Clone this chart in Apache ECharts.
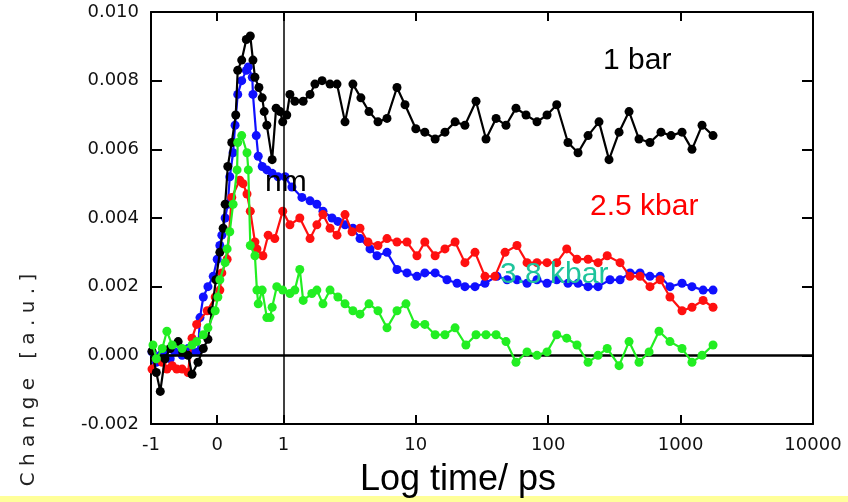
<!DOCTYPE html>
<html>
<head>
<meta charset="utf-8">
<script src="https://cdn.jsdelivr.net/npm/echarts@6/dist/echarts.min.js"></script>
<style>
  html, body { margin: 0; padding: 0; background: #fff; }
  #chart { width: 848px; height: 502px; }
</style>
</head>
<body>
<div id="chart"></div>
<script>
// Time axis: linear between -1 and 1 ps, logarithmic above 1 ps.
const xTickTimes = [-1, 0, 1, 10, 100, 1000, 10000];
const xTickLabels = ['-1', '0', '1', '10', '100', '1000', '10000'];

// [time (ps), change (a.u.)]
const bar1 = [
  [-0.985, 0.00012], [-0.92, -0.0005], [-0.86, -0.00105], [-0.79, -0.0001], [-0.71, 0.0002],
  [-0.59, 0.0004], [-0.52, 0.0001], [-0.44, 0.0], [-0.38, -0.00055], [-0.29, -0.0002],
  [-0.21, 0.0002], [-0.14, 0.00047], [-0.08, 0.0013], [-0.02, 0.0022], [0.04, 0.0030],
  [0.09, 0.0037], [0.12, 0.0044], [0.16, 0.0055], [0.22, 0.0062], [0.28, 0.0070],
  [0.31, 0.0083], [0.37, 0.0086], [0.44, 0.0092], [0.50, 0.0093], [0.54, 0.0086],
  [0.57, 0.0081], [0.63, 0.0078], [0.68, 0.0075], [0.71, 0.0071], [0.75, 0.0067],
  [0.83, 0.0057], [0.89, 0.0072], [0.95, 0.0071], [0.99, 0.0068], [1.06, 0.0070],
  [1.12, 0.0076], [1.22, 0.0074], [1.41, 0.0074], [1.59, 0.0076], [1.73, 0.0079],
  [1.96, 0.0080], [2.25, 0.0079], [2.54, 0.0079], [2.92, 0.0068], [3.35, 0.0079],
  [3.85, 0.0075], [4.43, 0.0071], [5.18, 0.0068], [6.06, 0.0069], [7.21, 0.0078],
  [8.29, 0.0073], [10.0, 0.0066], [11.7, 0.0065], [14.0, 0.0063], [16.6, 0.0065],
  [19.8, 0.0068], [23.5, 0.0067], [28.5, 0.0074], [33.9, 0.0063], [40.4, 0.0069],
  [48.0, 0.0067], [57.1, 0.0072], [68.0, 0.0070], [82.3, 0.0068], [98.0, 0.0070],
  [116, 0.0073], [141, 0.0062], [168, 0.0059], [200, 0.0064], [242, 0.0068],
  [288, 0.0057], [343, 0.0065], [408, 0.0071], [485, 0.0063], [587, 0.0062],
  [711, 0.0065], [847, 0.0064], [1025, 0.0065], [1219, 0.0060], [1452, 0.0067],
  [1758, 0.0064]
];

const kbar25 = [
  [-0.985, -0.0004], [-0.92, -0.0001], [-0.83, -0.0002], [-0.76, -0.0004], [-0.68, -0.0003],
  [-0.61, -0.0004], [-0.53, -0.0004], [-0.44, -0.0005], [-0.38, 0.0005], [-0.31, 0.0009],
  [-0.15, 0.0013], [-0.03, 0.0017], [0.04, 0.0019], [0.07, 0.0024], [0.15, 0.0028],
  [0.22, 0.0046], [0.34, 0.0051], [0.39, 0.0050], [0.45, 0.0047], [0.50, 0.0042],
  [0.57, 0.0033], [0.60, 0.0031], [0.69, 0.0029], [0.77, 0.0035], [0.87, 0.0034],
  [0.99, 0.0042], [1.12, 0.0038], [1.33, 0.0040], [1.59, 0.0034], [1.79, 0.0038],
  [1.99, 0.0041], [2.25, 0.0037], [2.54, 0.0035], [2.92, 0.0041], [3.30, 0.0036],
  [3.79, 0.0037], [4.35, 0.0033], [5.18, 0.0032], [6.06, 0.0034], [7.21, 0.0033],
  [8.58, 0.0033], [10.2, 0.0029], [11.7, 0.0033], [14.0, 0.0029], [16.6, 0.0031],
  [19.8, 0.0033], [23.5, 0.0027], [28.0, 0.0030], [33.3, 0.0023], [39.6, 0.0023],
  [47.2, 0.0030], [58.1, 0.0032], [69.2, 0.0027], [82.3, 0.0027], [98.0, 0.0027],
  [116, 0.0027], [138, 0.0031], [165, 0.0028], [200, 0.0028], [238, 0.0027],
  [279, 0.0029], [349, 0.0027], [415, 0.0023], [494, 0.0023], [587, 0.0020],
  [700, 0.0022], [831, 0.0017], [1025, 0.0013], [1219, 0.0014], [1479, 0.0016],
  [1758, 0.0014]
];

const kbarBlue = [
  [-0.985, 0.0001], [-0.92, -0.0002], [-0.86, 0.0], [-0.79, 0.0001], [-0.71, -0.0001],
  [-0.64, 0.0001], [-0.53, 0.0], [-0.44, 0.0002], [-0.37, 0.0001], [-0.29, 0.0001],
  [-0.26, 0.0011], [-0.21, 0.0017], [-0.14, 0.0020], [-0.06, 0.0023], [0.0, 0.0028],
  [0.04, 0.0032], [0.07, 0.0035], [0.12, 0.0040], [0.16, 0.0044], [0.19, 0.0052],
  [0.24, 0.0059], [0.27, 0.0067], [0.31, 0.0076], [0.37, 0.0080], [0.44, 0.0083],
  [0.47, 0.0084], [0.53, 0.0081], [0.54, 0.0076], [0.59, 0.0064], [0.62, 0.0058],
  [0.68, 0.0055], [0.75, 0.0054], [0.83, 0.0053], [0.92, 0.0052], [1.03, 0.0052],
  [1.16, 0.0049], [1.38, 0.0046], [1.59, 0.0045], [1.79, 0.0044], [1.99, 0.0042],
  [2.33, 0.0040], [2.58, 0.0039], [2.92, 0.0038], [3.35, 0.0037], [3.79, 0.0034],
  [4.51, 0.0031], [5.09, 0.0029], [6.06, 0.0030], [7.21, 0.0025], [8.58, 0.0024],
  [10.2, 0.0023], [11.7, 0.0024], [14.0, 0.0024], [17.2, 0.0022], [20.5, 0.0021],
  [23.5, 0.0020], [28.0, 0.0020], [33.3, 0.0021], [41.0, 0.0023], [48.9, 0.0022],
  [58.1, 0.0022], [69.2, 0.0021], [82.3, 0.0022], [98.0, 0.0021], [116, 0.0022],
  [141, 0.0021], [168, 0.0021], [200, 0.0020], [238, 0.0020], [293, 0.0022],
  [349, 0.0022], [415, 0.0024], [494, 0.0024], [587, 0.0023], [700, 0.0023],
  [831, 0.0020], [1025, 0.0021], [1219, 0.0020], [1479, 0.0019], [1758, 0.0019]
];

const kbar38 = [
  [-0.97, 0.0003], [-0.92, -0.0001], [-0.83, 0.0002], [-0.76, 0.0007], [-0.68, 0.0003],
  [-0.53, 0.0002], [-0.38, 0.0003], [-0.31, 0.0004], [-0.21, 0.0006], [-0.14, 0.0008],
  [-0.03, 0.0013], [0.01, 0.0017], [0.04, 0.0022], [0.12, 0.0027], [0.15, 0.0031],
  [0.19, 0.0036], [0.24, 0.0044], [0.30, 0.0054], [0.31, 0.0062], [0.37, 0.0064],
  [0.45, 0.0059], [0.47, 0.0054], [0.50, 0.0032], [0.57, 0.0029], [0.60, 0.0019],
  [0.62, 0.0015], [0.68, 0.0019], [0.75, 0.0011], [0.80, 0.0011], [0.83, 0.0014],
  [0.90, 0.0020], [0.99, 0.0019], [1.12, 0.0018], [1.22, 0.0019], [1.33, 0.0025],
  [1.41, 0.0016], [1.64, 0.0018], [1.79, 0.0019], [1.99, 0.0015], [2.25, 0.0019],
  [2.58, 0.0017], [2.92, 0.0015], [3.35, 0.0013], [3.79, 0.0012], [4.43, 0.0015],
  [5.18, 0.0013], [6.06, 0.0008], [7.21, 0.0013], [8.43, 0.0015], [9.86, 0.0009],
  [11.7, 0.0009], [14.0, 0.0006], [16.6, 0.0006], [19.8, 0.0008], [23.9, 0.0003],
  [28.5, 0.0006], [33.9, 0.0006], [40.4, 0.0006], [48.0, 0.0004], [57.1, -0.0002],
  [69.2, 0.0001], [82.3, 0.0], [98.0, 0.0001], [116, 0.0006], [138, 0.0005],
  [165, 0.0003], [200, -0.0002], [238, 0.0], [279, 0.0002], [343, -0.0003],
  [408, 0.0004], [485, -0.0002], [578, 0.0001], [687, 0.0007], [831, 0.0004],
  [1025, 0.0002], [1219, -0.0002], [1452, 0.0], [1758, 0.0003]
];

const seriesNames = ['3.8 kbar (blue)', '2.5 kbar', '1 bar', '3.8 kbar'];

// axis coordinate: linear up to 1 ps, two units per decade above it
const toAxis = t => (t <= 1 ? t : 1 + 2 * Math.log10(t));
const mapData = arr => arr.map(([t, v]) => [toAxis(t), v]);
const xTickPos = xTickTimes.map(toAxis);

const labelFont = { color: '#111', fontSize: 18, fontFamily: 'DejaVu Sans' };
const axisLineStyle = { color: '#000', width: 2 };

function lineSeries(name, data, color, z) {
  return {
    name, type: 'line', data: mapData(data), z,
    symbol: 'circle', symbolSize: 9,
    itemStyle: { color },
    lineStyle: { color, width: 2.2 },
    emphasis: { disabled: true }
  };
}

const chart = echarts.init(document.getElementById('chart'), null, { renderer: 'canvas' });
chart.setOption({
  animation: false,
  backgroundColor: '#fff',
  grid: { left: 151, right: 35, top: 12, bottom: 78, containLabel: false },
  xAxis: [
    {
      type: 'value', min: -1, max: 9, position: 'bottom',
      axisLine: { show: true, onZero: false, lineStyle: axisLineStyle },
      axisTick: { show: true, inside: true, length: 9, customValues: xTickPos, lineStyle: axisLineStyle },
      axisLabel: Object.assign({
        customValues: xTickPos, margin: 12,
        formatter: v => {
          const i = xTickPos.findIndex(p => Math.abs(p - v) < 1e-6);
          return i >= 0 ? xTickLabels[i] : '';
        }
      }, labelFont),
      splitLine: { show: false }
    },
    {
      type: 'value', min: -1, max: 9, position: 'top',
      axisLine: { show: true, onZero: false, lineStyle: axisLineStyle },
      axisTick: { show: true, inside: true, length: 9, customValues: xTickPos, lineStyle: axisLineStyle },
      axisLabel: { show: false },
      splitLine: { show: false }
    }
  ],
  yAxis: [
    {
      type: 'value', min: -0.002, max: 0.010, interval: 0.002, position: 'left',
      axisLine: { show: true, onZero: false, lineStyle: axisLineStyle },
      axisTick: { show: true, inside: true, length: 11, lineStyle: axisLineStyle },
      axisLabel: Object.assign({ margin: 12, formatter: v => v.toFixed(3) }, labelFont),
      splitLine: { show: false }
    },
    {
      type: 'value', min: -0.002, max: 0.010, interval: 0.002, position: 'right',
      axisLine: { show: true, onZero: false, lineStyle: axisLineStyle },
      axisTick: { show: true, inside: true, length: 11, lineStyle: axisLineStyle },
      axisLabel: { show: false },
      splitLine: { show: false }
    }
  ],
  series: [
    lineSeries(seriesNames[0], kbarBlue, '#1010ff', 2),
    lineSeries(seriesNames[1], kbar25, '#ff1010', 3),
    lineSeries(seriesNames[2], bar1, '#000000', 4),
    lineSeries(seriesNames[3], kbar38, '#22ee22', 5),
    {
      name: 'reference', type: 'line', data: [], z: 6, silent: true,
      markLine: {
        silent: true, symbol: ['none', 'none'], label: { show: false },
        data: [
          { xAxis: toAxis(1), lineStyle: { color: '#000', width: 1.5, type: 'solid' } },
          { yAxis: 0, lineStyle: { color: '#000', width: 2.5, type: 'solid' } }
        ]
      }
    }
  ],
  graphic: [
    { type: 'rect', shape: { x: 0, y: 496, width: 848, height: 6 }, style: { fill: '#ffff99' }, z: 0 },
    { type: 'text', x: 603, y: 61, style: { text: '1 bar', font: '30px "Liberation Sans"', fill: '#000', align: 'left', verticalAlign: 'middle' }, z: 10 },
    { type: 'text', x: 590, y: 207, style: { text: '2.5 kbar', font: '30px "Liberation Sans"', fill: '#ff0000', align: 'left', verticalAlign: 'middle' }, z: 10 },
    { type: 'text', x: 500, y: 275, style: { text: '3.8 kbar', font: '30px "Liberation Sans"', fill: '#1ec49c', align: 'left', verticalAlign: 'middle' }, z: 10 },
    { type: 'text', x: 265, y: 183, style: { text: 'nm', font: '30px "Liberation Sans"', fill: '#000', align: 'left', verticalAlign: 'middle' }, z: 10 },
    { type: 'text', x: 458, y: 480, style: { text: 'Log time/ ps', font: '36px "Liberation Sans"', fill: '#000', align: 'center', verticalAlign: 'middle' }, z: 10 },
    { type: 'text', x: 29, y: 380, rotation: Math.PI / 2, style: { text: 'C h a n g e   [ a . u . ]', font: '20px "DejaVu Sans"', fill: '#222', align: 'center', verticalAlign: 'middle' }, z: 10 }
  ]
});
</script>
</body>
</html>
